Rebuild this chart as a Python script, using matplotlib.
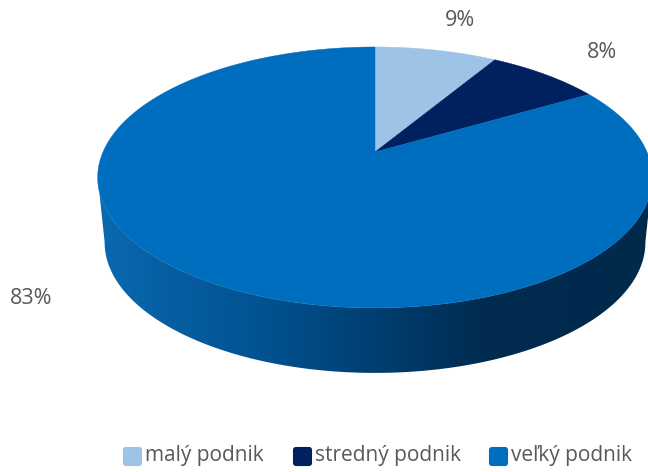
import numpy as np
import matplotlib
matplotlib.use("Agg")
import matplotlib.pyplot as plt
from matplotlib.patches import Polygon, FancyBboxPatch
from matplotlib.colors import LinearSegmentedColormap

# hodnoty grafu
kategorie = ["malý podnik", "stredný podnik", "veľký podnik"]
hodnoty = [8.6, 8.0, 83.4]
farby = ["#9DC3E6", "#002060", "#006EBE"]
popisky_xy = [(460, 20), (602, 52), (31, 297)]
legenda_x = [123, 293, 489]

# parametre perspektivy kolaca (v pixeloch)
CX, CY = 375, 152
A, B, K = 272, 125.5, 0.195
HLBKA = 65
ZUZENIE = 0.975


def projekcia(theta):  # bod na kruhu -> bod na obrazovke, theta od vrchu v smere hodin
    u = np.sin(theta)
    v = np.cos(theta)
    w = 1 + K * v
    return CX + A * u / w, CY - B * v / w


def spodok(theta):  # dolny okraj kolaca
    x, y = projekcia(theta)
    return CX + (x - CX) * ZUZENIE, y + HLBKA


fig = plt.figure(figsize=(6.48, 4.72), dpi=100)
ax = fig.add_axes([0, 0, 1, 1])
ax.set_xlim(0, 648)
ax.set_ylim(472, 0)
ax.axis("off")

# bocna stena s prechodom farby
t = np.radians(np.linspace(101, 259, 300))
xh, yh = projekcia(t)
xd, yd = spodok(t)
stena = Polygon(np.r_[np.c_[xh, yh], np.c_[xd, yd][::-1]], closed=True,
                transform=ax.transData, fc="none", ec="none")
ax.add_patch(stena)
cmap = LinearSegmentedColormap.from_list("stena", [
    (0.0, "#0A69B2"), (0.12, "#075FA3"), (0.3, "#025290"),
    (0.5, "#003F72"), (0.7, "#002C50"), (1.0, "#002A4C")])
gradient = np.linspace(0, 1, 256).reshape(1, -1)
im = ax.imshow(gradient, cmap=cmap, extent=[98, 650, 380, 150], aspect="auto", zorder=2)
im.set_clip_path(stena)
ax.set_xlim(0, 648)
ax.set_ylim(472, 0)

# horna plocha
zaciatok = 0.0
for hodnota, farba in zip(hodnoty, farby):
    koniec = zaciatok + hodnota / sum(hodnoty) * 2 * np.pi
    uhly = np.linspace(zaciatok, koniec, 400)
    x, y = projekcia(uhly)
    ax.add_patch(Polygon(np.r_[[[CX, CY]], np.c_[x, y]], closed=True, fc=farba, ec=farba,
                         lw=0.3, zorder=3))
    zaciatok = koniec

for hodnota, (px, py) in zip(hodnoty, popisky_xy):
    ax.text(px, py + 1, "{:.0f}%".format(hodnota), ha="center", va="center", fontsize=15.5,
            color="#595959", family="Open Sans", zorder=4)

# legenda
for nazov, farba, lx in zip(kategorie, farby, legenda_x):
    ax.add_patch(FancyBboxPatch((lx + 1, 448), 17, 17, boxstyle="round,pad=0,rounding_size=2",
                                mutation_aspect=1, fc=farba, ec=farba, lw=1.5, zorder=4))
    ax.text(lx + 22, 456, nazov, ha="left", va="center", fontsize=15, color="#595959",
            family="Open Sans", zorder=4)

fig.savefig("out.png", dpi=100)
